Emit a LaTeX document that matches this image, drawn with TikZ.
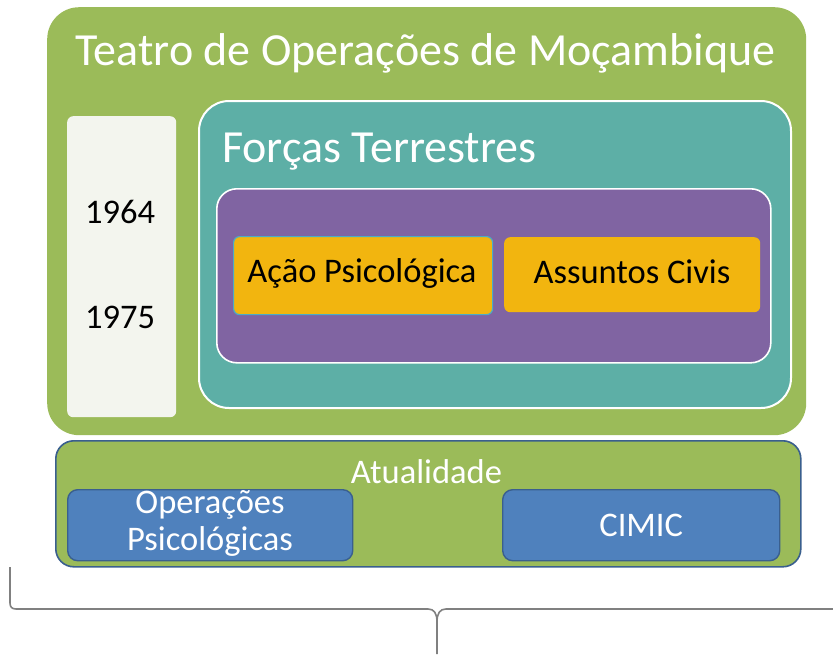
\documentclass[tikz,border=0pt]{standalone}
\usepackage{fontspec}
\setmainfont{Carlito}
\definecolor{cgreen}{HTML}{9BBB59}
\definecolor{cteal}{HTML}{5DAFA6}
\definecolor{cpurple}{HTML}{8064A2}
\definecolor{cgold}{HTML}{F2B50F}
\definecolor{cblue}{HTML}{4F81BD}
\definecolor{cbluedark}{HTML}{3A5F8E}
\definecolor{cpale}{HTML}{F3F5EE}
\definecolor{cbrace}{HTML}{808080}
\definecolor{cborderteal}{HTML}{4BACC6}
\tikzset{
  box/.style={rounded corners=#1, inner sep=0pt, anchor=north west},
  box/.default=10pt,
  big/.style={font=\fontsize{46}{48}\selectfont},
  small/.style={font=\fontsize{34.5}{37}\selectfont},
}
\begin{document}
\begin{tikzpicture}[x=1pt,y=-1pt]
\useasboundingbox (0,0) rectangle (833,654);
% outer green
\node[box=32pt, fill=cgreen, minimum width=759pt, minimum height=428pt] (teatro) at (47,7) {};
\node[text=white, big, anchor=base] (teatrot) at (425.5,65) {Teatro de Operações de Moçambique};
% years box
\node[box=6pt, fill=cpale, minimum width=109pt, minimum height=301pt] (anos) at (67,116) {};
\node[small, anchor=base] (a1964) at (120,223) {1964};
\node[small, anchor=base] (a1975) at (120,328) {1975};
% teal box
\node[box=30pt, fill=cteal, draw=white, line width=2pt, minimum width=592pt, minimum height=307pt] (forcas) at (198,100) {};
\node[text=white, big, anchor=base west, inner sep=0pt] (forcast) at (222,162) {Forças Terrestres};
% purple box
\node[box=20pt, fill=cpurple, draw=white, line width=1.6pt, minimum width=554pt, minimum height=174pt] (roxo) at (216,188) {};
% gold boxes
\node[box=6pt, fill=cgold, draw=cborderteal, line width=1.2pt, minimum width=259pt, minimum height=78pt] (acao) at (233,236) {};
\node[small, anchor=base] (acaot) at (362,282) {Ação Psicológica};
\node[box=6pt, fill=cgold, minimum width=256pt, minimum height=75pt] (assuntos) at (504,237) {};
\node[small, anchor=base] (assuntost) at (632,283) {Assuntos Civis};
% atualidade
\node[box=18pt, fill=cgreen, draw=cbluedark, line width=1.6pt, minimum width=745pt, minimum height=126pt] (atual) at (55,440) {};
\node[text=white, small, anchor=base] (atualt) at (426.5,483) {Atualidade};
\node[box=10pt, fill=cblue, draw=cbluedark, line width=1.4pt, minimum width=285pt, minimum height=71pt] (psyops) at (67,489) {};
\node[text=white, small, anchor=base] (psyopst1) at (210,513) {Operações};
\node[text=white, small, anchor=base] (psyopst2) at (210,550) {Psicológicas};
\node[box=10pt, fill=cblue, draw=cbluedark, line width=1.4pt, minimum width=277pt, minimum height=71pt] (cimic) at (502,489) {};
\node[text=white, small] (cimict) at (cimic.center) {CIMIC};
% brace
\coordinate (bl) at (10,567);
\coordinate (tip) at (437,654);
\coordinate (br) at (833,609);
\draw[cbrace, line width=1.6pt, line join=round]
  (bl) -- (10,603) .. controls (10,607) and (12,609) .. (16,609)
  -- (428,609) .. controls (434,609) and (437,613) .. (437,622) -- (tip);
\draw[cbrace, line width=1.6pt]
  (437,622) .. controls (437,613) and (440,609) .. (446,609) -- (br);
\end{tikzpicture}
\end{document}
